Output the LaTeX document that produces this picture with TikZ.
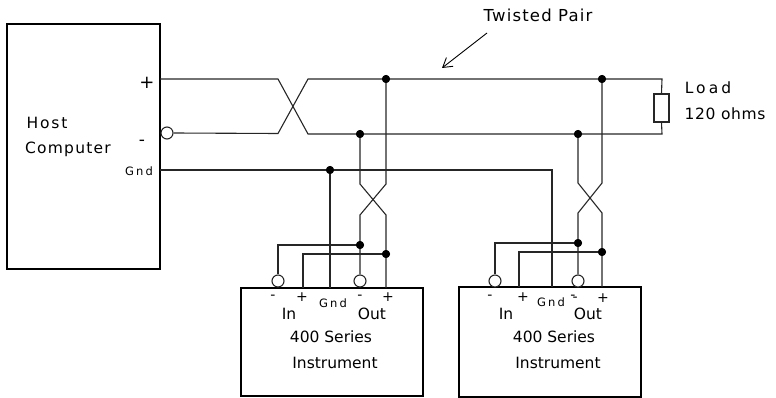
\documentclass[tikz,border=0pt]{standalone}
\usepackage{fontspec}
\setmainfont{DejaVu Sans}
\usetikzlibrary{arrows.meta}
\begin{document}
\begin{tikzpicture}[x=1pt,y=-1pt,
  wire/.style={line width=1.1pt, draw=black!85},
  boxline/.style={draw=black, line width=2.4pt, inner sep=0pt},
  dot/.style={circle, fill=black, inner sep=0pt, minimum size=8pt},
  pin/.style={circle, draw=black!85, line width=1.1pt, fill=white, inner sep=0pt, minimum size=12pt},
  lbl/.style={inner sep=0pt, font=\fontsize{15.5}{18}\selectfont},
  slbl/.style={inner sep=0pt, font=\fontsize{15.5}{18}\selectfont\addfontfeature{LetterSpace=12}},
  small/.style={inner sep=0pt, font=\fontsize{11.5}{14}\selectfont\addfontfeature{LetterSpace=18}},
  sign/.style={inner sep=0pt, font=\fontsize{14}{14}\selectfont},
]
\useasboundingbox (0,0) rectangle (776,398);

% boxes
\node[boxline, minimum width=153pt, minimum height=245pt] (host) at (83.5,146.5) {};
\node[boxline, minimum width=182pt, minimum height=108pt] (inst1) at (332,342) {};
\node[boxline, minimum width=182pt, minimum height=110pt] (inst2) at (550,342) {};
\node[draw=black!85, line width=1.1pt, minimum width=15pt, minimum height=28pt, inner sep=0pt] (R) at (661.5,108) {};

% pin circles
\node[pin] (c0) at (167,133) {};
\node[pin] (c1) at (278,281) {};
\node[pin] (c2) at (360,281) {};
\node[pin] (c3) at (495,281) {};
\node[pin] (c4) at (578,281) {};

% coordinates
\coordinate (hp) at (160,79);
\coordinate (hg) at (160,170);
\coordinate (lt) at (662,79);
\coordinate (lb) at (662,134);
\coordinate (g2) at (552,287);
\coordinate (g1) at (330,288);
\coordinate (p1) at (386,288);
\coordinate (i1) at (303,288);
\coordinate (p2) at (602,287);
\coordinate (i2) at (519,287);

% dots
\node[dot] (a1) at (386,79) {};
\node[dot] (b1) at (360,134) {};
\node[dot] (e1) at (360,245) {};
\node[dot] (f1) at (386,254) {};
\node[dot] (a2) at (602,79) {};
\node[dot] (b2) at (578,134) {};
\node[dot] (e2) at (578,243) {};
\node[dot] (f2) at (602,252) {};
\node[dot] (gd) at (330,170) {};

% main twisted pair
\draw[wire] (hp) -- (278,79) -- (308,134) -- (lb) -- (R.south);
\draw[wire] (c0.east) -- (278,133.5) -- (308,79) -- (lt) -- (R.north);
% ground
\draw[wire] (hg) -- (552,170) -- (g2);
\draw[wire] (gd.center) -- (g1);
% drop 1
\draw[wire] (a1.center) -- (386,184) -- (360,215) -- (c2.north);
\draw[wire] (b1.center) -- (360,184) -- (386,215) -- (p1);
\draw[wire] (e1.center) -- (278,245) -- (c1.north);
\draw[wire] (f1.center) -- (303,254) -- (i1);
% drop 2
\draw[wire] (a2.center) -- (602,183) -- (578,213) -- (c4.north);
\draw[wire] (b2.center) -- (578,183) -- (602,213) -- (p2);
\draw[wire] (e2.center) -- (495,243) -- (c3.north);
\draw[wire] (f2.center) -- (519,252) -- (i2);

% redraw dots on top
\foreach \d in {a1,b1,e1,f1,a2,b2,e2,f2,gd} {\fill (\d) circle (4pt);}

% arrow
\node[lbl, font=\fontsize{16.5}{18}\selectfont\addfontfeature{LetterSpace=7}] (tp) at (538,15) {Twisted Pair};
\coordinate (ta) at (487,33);
\coordinate (tb) at (442,68);
\draw[line width=0.9pt, -{Straight Barb[length=9pt,width=11pt]}] (ta) -- (tb);

% load labels
\node[slbl, font=\fontsize{15.5}{18}\selectfont\addfontfeature{LetterSpace=20}] (ld) at (708,88) {Load};
\node[lbl, font=\fontsize{15.5}{18}\selectfont\addfontfeature{LetterSpace=4}] (oh) at (725,114) {120 ohms};

% host labels
\node[slbl] (hh) at (47,123) {Host};
\node[lbl, font=\fontsize{15.5}{18}\selectfont\addfontfeature{LetterSpace=8}] (hc) at (68,149) {Computer};
\node[sign, font=\fontsize{18}{18}\selectfont] (hplus) at (147,83) {+};
\node[sign, font=\fontsize{17}{18}\selectfont] (hminus) at (142,143) {-};
\node[small] (hgnd) at (139,171) {Gnd};

% instrument 1 labels
\node[sign] (m1a) at (273,297) {-};
\node[sign] (p1a) at (302,297) {+};
\node[small] (g1l) at (333,303) {Gnd};
\node[sign] (m1b) at (360,297) {-};
\node[sign] (p1b) at (388,297) {+};
\node[lbl] (in1) at (289,314) {In};
\node[lbl] (out1) at (372,314) {Out};
\node[lbl] (s1) at (331,337) {400 Series};
\node[lbl] (n1) at (335,363) {Instrument};

% instrument 2 labels
\node[sign] (m2a) at (490,297) {-};
\node[sign] (p2a) at (523,297) {+};
\node[small] (g2l) at (551,302) {Gnd};
\node[sign] (m2b) at (574,298.5) {\raisebox{2pt}{-}\kern-3pt-};
\node[sign] (p2b) at (603,298) {+};
\node[lbl] (in2) at (506,314) {In};
\node[lbl] (out2) at (588,314) {Out};
\node[lbl] (s2) at (554,337) {400 Series};
\node[lbl] (n2) at (558,363) {Instrument};
\end{tikzpicture}
\end{document}
